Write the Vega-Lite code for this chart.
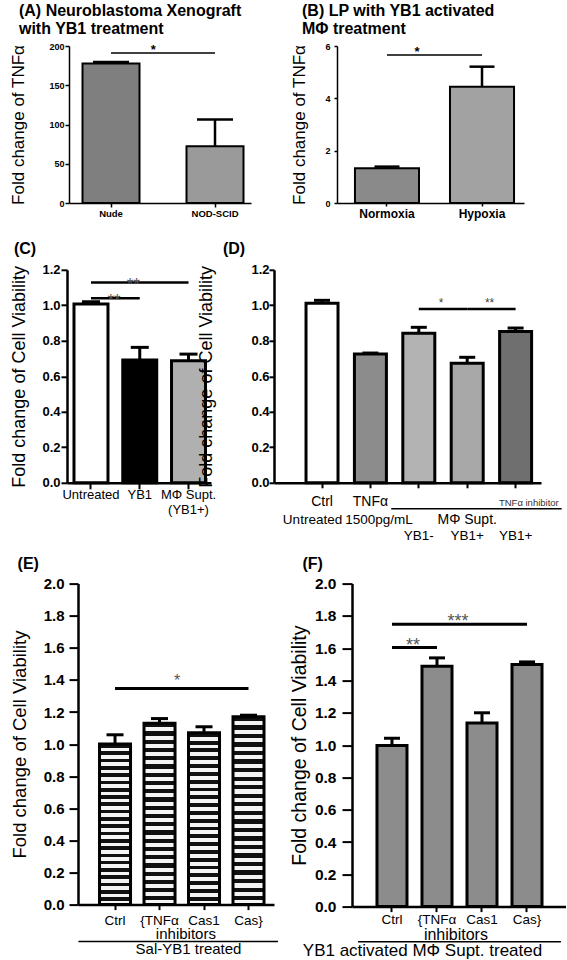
{
  "$schema": "https://vega.github.io/schema/vega-lite/v6.json",
  "background": "white",
  "padding": {"left": 9, "top": 3, "right": 0, "bottom": 0},
  "config": {
    "font": "Liberation Sans",
    "view": {"stroke": null},
    "axis": {"grid": false, "domainColor": "black", "tickColor": "black", "labelColor": "black", "titleColor": "black", "titleFontWeight": "normal", "labelFont": "Liberation Sans", "titleFont": "Liberation Sans"},
    "axisX": {"labelAngle": 0},
    "title": {"color": "black", "anchor": "start", "frame": "bounds", "font": "Liberation Sans"}
  },
  "datasets": {
    "A": [{"group": "Nude", "mean": 177.6, "upper": 179.5}, {"group": "NOD-SCID", "mean": 72.4, "upper": 106.4}],
    "Asig": [{"from": "Nude", "to": "NOD-SCID", "level": 191, "label": "*"}],
    "B": [{"group": "Normoxia", "mean": 1.33, "upper": 1.39}, {"group": "Hypoxia", "mean": 4.44, "upper": 5.21}],
    "Bsig": [{"from": "Normoxia", "to": "Hypoxia", "level": 5.66, "label": "*"}],
    "C": [{"group": "Untreated", "mean": 1.007, "upper": 1.02}, {"group": "YB1", "mean": 0.692, "upper": 0.763}, {"group": "MΦ Supt.", "mean": 0.688, "upper": 0.725}],
    "Csig": [{"from": "Untreated", "to": "MΦ Supt.", "level": 1.129, "label": "**"}, {"from": "Untreated", "to": "YB1", "level": 1.04, "label": "**"}],
    "D": [{"group": "Ctrl", "mean": 1.012, "upper": 1.028}, {"group": "TNFα", "mean": 0.725, "upper": 0.731}, {"group": "YB1-", "mean": 0.843, "upper": 0.876}, {"group": "YB1+", "mean": 0.673, "upper": 0.707}, {"group": "YB1+ inhibitor", "mean": 0.853, "upper": 0.872}],
    "Dsig": [{"from": "YB1-", "to": "YB1+", "level": 0.979, "label": "*"}, {"from": "YB1+", "to": "YB1+ inhibitor", "level": 0.979, "label": "**"}],
    "E": [{"group": "Ctrl", "mean": 1.0, "upper": 1.058}, {"group": "{TNFα", "mean": 1.13, "upper": 1.159}, {"group": "Cas1", "mean": 1.07, "upper": 1.108}, {"group": "Cas}", "mean": 1.17, "upper": 1.18}],
    "Esig": [{"from": "Ctrl", "to": "Cas}", "level": 1.346, "label": "*"}],
    "F": [{"group": "Ctrl", "mean": 0.998, "upper": 1.043}, {"group": "{TNFα", "mean": 1.488, "upper": 1.54}, {"group": "Cas1", "mean": 1.137, "upper": 1.2}, {"group": "Cas}", "mean": 1.499, "upper": 1.515}],
    "Fsig": [{"from": "Ctrl", "to": "{TNFα", "level": 1.604, "label": "**"}, {"from": "Ctrl", "to": "Cas}", "level": 1.748, "label": "***"}]
  },
  "columns": 1,
  "spacing": 12.8,
  "resolve": {"scale": {"fill": "independent"}},
  "concat": [
    {
      "resolve": {"scale": {"fill": "independent"}},
      "spacing": 0,
      "bounds": "flush",
      "hconcat": [
        {"width": 3, "height": 1, "data": {"values": []}, "mark": "point", "encoding": {}},
        {
          "resolve": {"scale": {"fill": "independent"}},
          "spacing": 86,
          "bounds": "flush",
          "hconcat": [
            {
              "width": 182, "height": 157,
              "title": {"text": ["(A) Neuroblastoma Xenograft", "\u00a0\u00a0\u00a0\u00a0\u00a0\u00a0with YB1 treatment"], "fontSize": 16, "fontWeight": "bold", "lineHeight": 18, "offset": 5, "dx": 9},
              "layer": [
                {"data": {"name": "A"}, "mark": {"type": "bar", "stroke": "black", "strokeWidth": 2},
                 "encoding": {
                   "x": {"field": "group", "type": "nominal", "scale": {"domain": ["Nude", "NOD-SCID"], "paddingInner": 0.452, "paddingOuter": 0.101, "align": 0.643},
                         "axis": {"title": null, "labelFontSize": 9.5, "labelFontWeight": "bold", "domainWidth": 1.5, "tickWidth": 1.5, "tickSize": 4, "labelPadding": 1.5}},
                   "y": {"field": "mean", "type": "quantitative", "scale": {"domain": [0, 200], "nice": false},
                         "axis": {"title": "Fold change of TNFα", "titleFontSize": 17, "titlePadding": 21, "values": [0, 50, 100, 150, 200], "format": "d", "tickCount": 30, "labelOverlap": false, "labelFontSize": 9, "labelFontWeight": "bold", "domainWidth": 1.5, "tickWidth": 1.5, "tickSize": 4, "labelPadding": 1}},
                   "fill": {"field": "group", "type": "nominal", "scale": {"domain": ["Nude", "NOD-SCID"], "range": ["#7f7f7f", "#9a9a9a"]}, "legend": null}
                 }},
                {"data": {"name": "A"}, "mark": {"type": "rule", "strokeWidth": 2.5, "color": "black"},
                 "encoding": {"x": {"field": "group", "type": "nominal"}, "y": {"field": "mean", "type": "quantitative"}, "y2": {"field": "upper"}}},
                {"data": {"name": "A"}, "mark": {"type": "tick", "size": 36, "thickness": 2.5, "color": "black", "opacity": 1},
                 "encoding": {"x": {"field": "group", "type": "nominal"}, "y": {"field": "upper", "type": "quantitative"}}},
                {"data": {"name": "Asig"}, "mark": {"type": "rule", "strokeWidth": 1.5, "color": "black"},
                 "encoding": {"x": {"field": "from", "type": "nominal"}, "x2": {"field": "to"}, "y": {"field": "level", "type": "quantitative"}}},
                {"data": {"name": "Asig"}, "mark": {"type": "text", "fontSize": 13, "fontWeight": "bold", "color": "black", "dy": -3},
                 "encoding": {"x": {"field": "from", "type": "nominal", "bandPosition": 1.24}, "y": {"field": "level", "type": "quantitative"}, "text": {"field": "label"}}}
              ]
            },
            {
              "width": 187, "height": 157,
              "title": {"text": ["(B) LP with YB1 activated", "\u00a0\u00a0\u00a0\u00a0\u00a0\u00a0\u00a0MΦ treatment"], "fontSize": 16, "fontWeight": "bold", "lineHeight": 18, "offset": 5, "dx": 11},
              "layer": [
                {"data": {"name": "B"}, "mark": {"type": "bar", "stroke": "black", "strokeWidth": 2},
                 "encoding": {
                   "x": {"field": "group", "type": "nominal", "scale": {"domain": ["Normoxia", "Hypoxia"], "paddingInner": 0.326, "paddingOuter": 0.147, "align": 0.643},
                         "axis": {"title": null, "labelFontSize": 12, "labelFontWeight": "bold", "domainWidth": 1.5, "tickWidth": 1.5, "tickSize": 3, "labelPadding": 2}},
                   "y": {"field": "mean", "type": "quantitative", "scale": {"domain": [0, 6], "nice": false},
                         "axis": {"title": "Fold change of TNFα", "titleFontSize": 17, "titlePadding": 16, "values": [0, 2, 4, 6], "format": "d", "tickCount": 30, "labelOverlap": false, "labelFontSize": 9, "labelFontWeight": "bold", "domainWidth": 1.5, "tickWidth": 1.5, "tickSize": 3, "labelPadding": 4}},
                   "fill": {"field": "group", "type": "nominal", "scale": {"domain": ["Normoxia", "Hypoxia"], "range": ["#8a8a8a", "#a2a2a2"]}, "legend": null}
                 }},
                {"data": {"name": "B"}, "mark": {"type": "rule", "strokeWidth": 2.5, "color": "black"},
                 "encoding": {"x": {"field": "group", "type": "nominal"}, "y": {"field": "mean", "type": "quantitative"}, "y2": {"field": "upper"}}},
                {"data": {"name": "B"}, "mark": {"type": "tick", "size": 25, "thickness": 2.5, "color": "black", "opacity": 1},
                 "encoding": {"x": {"field": "group", "type": "nominal"}, "y": {"field": "upper", "type": "quantitative"}}},
                {"data": {"name": "Bsig"}, "mark": {"type": "rule", "strokeWidth": 1.5, "color": "black"},
                 "encoding": {"x": {"field": "from", "type": "nominal"}, "x2": {"field": "to"}, "y": {"field": "level", "type": "quantitative"}}},
                {"data": {"name": "Bsig"}, "mark": {"type": "text", "fontSize": 13, "fontWeight": "bold", "color": "black", "dy": -3},
                 "encoding": {"x": {"field": "from", "type": "nominal", "bandPosition": 0.97}, "y": {"field": "level", "type": "quantitative"}, "text": {"field": "label"}}}
              ]
            }
          ]
        }
      ]
    },
    {
      "resolve": {"scale": {"fill": "independent"}},
      "spacing": 0,
      "bounds": "flush",
      "hconcat": [
        {"width": 1, "height": 1, "data": {"values": []}, "mark": "point", "encoding": {}},
        {
          "resolve": {"scale": {"fill": "independent"}},
          "spacing": 63,
          "bounds": "flush",
          "hconcat": [
            {
              "width": 144, "height": 213,
              "title": {"text": ["\u00a0", "(C)"], "fontSize": 16, "lineHeight": 9, "offset": 6.8, "dx": 3},
              "layer": [
                {"data": {"name": "C"}, "mark": {"type": "bar", "stroke": "black", "strokeWidth": 3},
                 "encoding": {
                   "x": {"field": "group", "type": "nominal", "scale": {"domain": ["Untreated", "YB1", "MΦ Supt."], "paddingInner": 0.303, "paddingOuter": 0.128, "align": 0.56},
                         "axis": {"title": null, "labelExpr": "datum.value == 'MΦ Supt.' ? ['MΦ Supt.', '(YB1+)'] : datum.value", "labelFontSize": 13, "labelLineHeight": 14.5, "domainWidth": 2.5, "tickWidth": 2, "tickSize": 6, "labelPadding": 0}},
                   "y": {"field": "mean", "type": "quantitative", "scale": {"domain": [0, 1.2], "nice": false},
                         "axis": {"title": "Fold change of Cell Viability", "titleFontSize": 18, "titlePadding": 13, "values": [0, 0.2, 0.4, 0.6, 0.8, 1, 1.2], "tickCount": 30, "labelOverlap": false, "format": ".1f", "labelFontSize": 13, "labelFontWeight": "bold", "domainWidth": 2.5, "tickWidth": 2, "tickSize": 6, "labelPadding": 1}},
                   "fill": {"field": "group", "type": "nominal", "scale": {"domain": ["Untreated", "YB1", "MΦ Supt."], "range": ["#ffffff", "#000000", "#b0b0b0"]}, "legend": null}
                 }},
                {"data": {"name": "C"}, "mark": {"type": "rule", "strokeWidth": 3, "color": "black"},
                 "encoding": {"x": {"field": "group", "type": "nominal"}, "y": {"field": "mean", "type": "quantitative"}, "y2": {"field": "upper"}}},
                {"data": {"name": "C"}, "mark": {"type": "tick", "size": 18, "thickness": 3, "color": "black", "opacity": 1},
                 "encoding": {"x": {"field": "group", "type": "nominal"}, "y": {"field": "upper", "type": "quantitative"}}},
                {"data": {"name": "Csig"}, "mark": {"type": "rule", "strokeWidth": 2.5, "color": "black"},
                 "encoding": {"x": {"field": "from", "type": "nominal"}, "x2": {"field": "to"}, "y": {"field": "level", "type": "quantitative"}}},
                {"data": {"values": [{"cat": "YB1", "level": 1.129, "label": "**"}]}, "mark": {"type": "text", "fontSize": 17, "color": "#555555", "dy": 3},
                 "encoding": {"x": {"field": "cat", "type": "nominal", "bandPosition": 0.31}, "y": {"field": "level", "type": "quantitative"}, "text": {"field": "label"}}},
                {"data": {"values": [{"cat": "Untreated", "level": 1.04, "label": "**"}]}, "mark": {"type": "text", "fontSize": 17, "color": "#555555", "dy": 3},
                 "encoding": {"x": {"field": "cat", "type": "nominal", "bandPosition": 1.18}, "y": {"field": "level", "type": "quantitative"}, "text": {"field": "label"}}}
              ]
            },
            {
              "width": 267, "height": 213,
              "title": {"text": ["\u00a0", "(D)"], "fontSize": 16, "lineHeight": 9, "offset": 6.8, "dx": 25},
              "layer": [
                {"data": {"name": "D"}, "mark": {"type": "bar", "stroke": "black", "strokeWidth": 3},
                 "encoding": {
                   "x": {"field": "group", "type": "nominal", "scale": {"domain": ["Ctrl", "TNFα", "YB1-", "YB1+", "YB1+ inhibitor"], "paddingInner": 0.339, "paddingOuter": 0.428, "align": 0.773},
                         "axis": {"title": null, "labelExpr": "indexof(['Ctrl', 'TNFα'], datum.value) >= 0 ? datum.value : ''", "labelFontSize": 14, "domainWidth": 2.5, "tickWidth": 2, "tickSize": 5, "labelPadding": 7}},
                   "y": {"field": "mean", "type": "quantitative", "scale": {"domain": [0, 1.2], "nice": false},
                         "axis": {"title": "Fold change of Cell Viability", "titleFontSize": 18, "titlePadding": 35, "values": [0, 0.2, 0.4, 0.6, 0.8, 1, 1.2], "tickCount": 30, "labelOverlap": false, "format": ".1f", "labelFontSize": 13, "labelFontWeight": "bold", "domainWidth": 2.5, "tickWidth": 2, "tickSize": 5, "labelPadding": 0}},
                   "fill": {"field": "group", "type": "nominal", "scale": {"domain": ["Ctrl", "TNFα", "YB1-", "YB1+", "YB1+ inhibitor"], "range": ["#ffffff", "#8c8c8c", "#b3b3b3", "#a8a8a8", "#6f6f6f"]}, "legend": null}
                 }},
                {"data": {"name": "D"}, "mark": {"type": "rule", "strokeWidth": 3, "color": "black"},
                 "encoding": {"x": {"field": "group", "type": "nominal"}, "y": {"field": "mean", "type": "quantitative"}, "y2": {"field": "upper"}}},
                {"data": {"name": "D"}, "mark": {"type": "tick", "size": 16, "thickness": 3, "color": "black", "opacity": 1},
                 "encoding": {"x": {"field": "group", "type": "nominal"}, "y": {"field": "upper", "type": "quantitative"}}},
                {"data": {"name": "Dsig"}, "mark": {"type": "rule", "strokeWidth": 2.5, "color": "black"},
                 "encoding": {"x": {"field": "from", "type": "nominal"}, "x2": {"field": "to"}, "y": {"field": "level", "type": "quantitative"}}},
                {"data": {"name": "Dsig"}, "mark": {"type": "text", "fontSize": 12, "color": "#444444", "dy": -6},
                 "encoding": {"x": {"field": "from", "type": "nominal", "bandPosition": 1.2}, "y": {"field": "level", "type": "quantitative"}, "text": {"field": "label"}}},
                {"data": {"values": [{"cat": "Ctrl", "label": "Untreated"}]}, "mark": {"type": "text", "align": "right", "baseline": "middle", "fontSize": 13.5, "color": "black"},
                 "encoding": {"x": {"field": "cat", "type": "nominal", "bandPosition": 1.13}, "y": {"datum": -0.208, "type": "quantitative"}, "text": {"field": "label"}}},
                {"data": {"values": [{"cat": "TNFα", "label": "1500pg/mL"}]}, "mark": {"type": "text", "align": "left", "baseline": "middle", "fontSize": 13.5, "color": "black"},
                 "encoding": {"x": {"field": "cat", "type": "nominal", "bandPosition": -0.29}, "y": {"datum": -0.208, "type": "quantitative"}, "text": {"field": "label"}}},
                {"data": {"values": [{"cat": "YB1+", "label": "MΦ  Supt."}]}, "mark": {"type": "text", "align": "center", "baseline": "middle", "fontSize": 14, "color": "black"},
                 "encoding": {"x": {"field": "cat", "type": "nominal"}, "y": {"datum": -0.208, "type": "quantitative"}, "text": {"field": "label"}}},
                {"data": {"values": [{"cat": "YB1-", "label": "YB1-"}, {"cat": "YB1+", "label": "YB1+"}, {"cat": "YB1+ inhibitor", "label": "YB1+"}]}, "mark": {"type": "text", "align": "center", "baseline": "middle", "fontSize": 13.5, "color": "black"},
                 "encoding": {"x": {"field": "cat", "type": "nominal"}, "y": {"datum": -0.299, "type": "quantitative"}, "text": {"field": "label"}}},
                {"data": {"values": [{"cat": "YB1+ inhibitor", "label": "TNFα inhibitor"}]}, "mark": {"type": "text", "align": "right", "baseline": "middle", "fontSize": 9.5, "color": "#333333"},
                 "encoding": {"x": {"field": "cat", "type": "nominal", "bandPosition": 1.85}, "y": {"datum": -0.113, "type": "quantitative"}, "text": {"field": "label"}}},
                {"data": {"values": [{"start": "TNFα", "end": "YB1+ inhibitor"}]}, "mark": {"type": "rule", "strokeWidth": 1.5, "color": "black"},
                 "encoding": {"x": {"field": "start", "type": "nominal", "bandPosition": 1.15}, "x2": {"field": "end", "bandPosition": 1.94}, "y": {"datum": -0.146, "type": "quantitative"}}}
              ]
            }
          ]
        }
      ]
    },
    {
      "resolve": {"scale": {"fill": "independent"}},
      "spacing": 0,
      "bounds": "flush",
      "hconcat": [
        {"width": 12, "height": 1, "data": {"values": []}, "mark": "point", "encoding": {}},
        {
          "resolve": {"scale": {"fill": "independent"}},
          "spacing": 78,
          "bounds": "flush",
          "hconcat": [
            {
              "width": 196, "height": 321,
              "title": {"text": "(E)", "fontSize": 16, "offset": 4.2, "dx": 7},
              "layer": [
                {"data": {"name": "E"},
                 "mark": {"type": "bar", "stroke": "black", "strokeWidth": 3,
                   "fill": {"gradient": "linear", "x1": 0, "y1": 0, "x2": 0, "y2": 1, "stops": [
                     {"offset": 0, "color": "#111111"}, {"offset": 0.0227, "color": "#111111"}, {"offset": 0.0227, "color": "#f4f4f4"}, {"offset": 0.0455, "color": "#f4f4f4"},
                     {"offset": 0.0455, "color": "#111111"}, {"offset": 0.0682, "color": "#111111"}, {"offset": 0.0682, "color": "#f4f4f4"}, {"offset": 0.0909, "color": "#f4f4f4"},
                     {"offset": 0.0909, "color": "#111111"}, {"offset": 0.1136, "color": "#111111"}, {"offset": 0.1136, "color": "#f4f4f4"}, {"offset": 0.1364, "color": "#f4f4f4"},
                     {"offset": 0.1364, "color": "#111111"}, {"offset": 0.1591, "color": "#111111"}, {"offset": 0.1591, "color": "#f4f4f4"}, {"offset": 0.1818, "color": "#f4f4f4"},
                     {"offset": 0.1818, "color": "#111111"}, {"offset": 0.2045, "color": "#111111"}, {"offset": 0.2045, "color": "#f4f4f4"}, {"offset": 0.2273, "color": "#f4f4f4"},
                     {"offset": 0.2273, "color": "#111111"}, {"offset": 0.25, "color": "#111111"}, {"offset": 0.25, "color": "#f4f4f4"}, {"offset": 0.2727, "color": "#f4f4f4"},
                     {"offset": 0.2727, "color": "#111111"}, {"offset": 0.2955, "color": "#111111"}, {"offset": 0.2955, "color": "#f4f4f4"}, {"offset": 0.3182, "color": "#f4f4f4"},
                     {"offset": 0.3182, "color": "#111111"}, {"offset": 0.3409, "color": "#111111"}, {"offset": 0.3409, "color": "#f4f4f4"}, {"offset": 0.3636, "color": "#f4f4f4"},
                     {"offset": 0.3636, "color": "#111111"}, {"offset": 0.3864, "color": "#111111"}, {"offset": 0.3864, "color": "#f4f4f4"}, {"offset": 0.4091, "color": "#f4f4f4"},
                     {"offset": 0.4091, "color": "#111111"}, {"offset": 0.4318, "color": "#111111"}, {"offset": 0.4318, "color": "#f4f4f4"}, {"offset": 0.4545, "color": "#f4f4f4"},
                     {"offset": 0.4545, "color": "#111111"}, {"offset": 0.4773, "color": "#111111"}, {"offset": 0.4773, "color": "#f4f4f4"}, {"offset": 0.5, "color": "#f4f4f4"},
                     {"offset": 0.5, "color": "#111111"}, {"offset": 0.5227, "color": "#111111"}, {"offset": 0.5227, "color": "#f4f4f4"}, {"offset": 0.5455, "color": "#f4f4f4"},
                     {"offset": 0.5455, "color": "#111111"}, {"offset": 0.5682, "color": "#111111"}, {"offset": 0.5682, "color": "#f4f4f4"}, {"offset": 0.5909, "color": "#f4f4f4"},
                     {"offset": 0.5909, "color": "#111111"}, {"offset": 0.6136, "color": "#111111"}, {"offset": 0.6136, "color": "#f4f4f4"}, {"offset": 0.6364, "color": "#f4f4f4"},
                     {"offset": 0.6364, "color": "#111111"}, {"offset": 0.6591, "color": "#111111"}, {"offset": 0.6591, "color": "#f4f4f4"}, {"offset": 0.6818, "color": "#f4f4f4"},
                     {"offset": 0.6818, "color": "#111111"}, {"offset": 0.7045, "color": "#111111"}, {"offset": 0.7045, "color": "#f4f4f4"}, {"offset": 0.7273, "color": "#f4f4f4"},
                     {"offset": 0.7273, "color": "#111111"}, {"offset": 0.75, "color": "#111111"}, {"offset": 0.75, "color": "#f4f4f4"}, {"offset": 0.7727, "color": "#f4f4f4"},
                     {"offset": 0.7727, "color": "#111111"}, {"offset": 0.7955, "color": "#111111"}, {"offset": 0.7955, "color": "#f4f4f4"}, {"offset": 0.8182, "color": "#f4f4f4"},
                     {"offset": 0.8182, "color": "#111111"}, {"offset": 0.8409, "color": "#111111"}, {"offset": 0.8409, "color": "#f4f4f4"}, {"offset": 0.8636, "color": "#f4f4f4"},
                     {"offset": 0.8636, "color": "#111111"}, {"offset": 0.8864, "color": "#111111"}, {"offset": 0.8864, "color": "#f4f4f4"}, {"offset": 0.9091, "color": "#f4f4f4"},
                     {"offset": 0.9091, "color": "#111111"}, {"offset": 0.9318, "color": "#111111"}, {"offset": 0.9318, "color": "#f4f4f4"}, {"offset": 0.9545, "color": "#f4f4f4"},
                     {"offset": 0.9545, "color": "#111111"}, {"offset": 0.9773, "color": "#111111"}, {"offset": 0.9773, "color": "#f4f4f4"}, {"offset": 1, "color": "#f4f4f4"}
                   ]}},
                 "encoding": {
                   "x": {"field": "group", "type": "nominal", "scale": {"domain": ["Ctrl", "{TNFα", "Cas1", "Cas}"], "paddingInner": 0.303, "paddingOuter": 0.354, "align": 0.683},
                         "axis": {"title": "Sal-YB1 treated", "titleFontSize": 15, "titlePadding": 14, "titleX": 110, "titleAlign": "center", "labelFontSize": 13.5, "domainWidth": 2.5, "tickWidth": 2, "tickSize": 5, "labelPadding": 4}},
                   "y": {"field": "mean", "type": "quantitative", "scale": {"domain": [0, 2], "nice": false},
                         "axis": {"title": "Fold change of Cell Viability", "titleFontSize": 18.5, "titlePadding": 13.6, "values": [0, 0.2, 0.4, 0.6, 0.8, 1, 1.2, 1.4, 1.6, 1.8, 2], "tickCount": 30, "labelOverlap": false, "format": ".1f", "labelFontSize": 15, "labelFontWeight": "bold", "domainWidth": 2.5, "tickWidth": 2, "tickSize": 9, "labelPadding": 5}}
                 }},
                {"data": {"name": "E"}, "mark": {"type": "rule", "strokeWidth": 3, "color": "black"},
                 "encoding": {"x": {"field": "group", "type": "nominal"}, "y": {"field": "mean", "type": "quantitative"}, "y2": {"field": "upper"}}},
                {"data": {"name": "E"}, "mark": {"type": "tick", "size": 17, "thickness": 3, "color": "black", "opacity": 1},
                 "encoding": {"x": {"field": "group", "type": "nominal"}, "y": {"field": "upper", "type": "quantitative"}}},
                {"data": {"name": "Esig"}, "mark": {"type": "rule", "strokeWidth": 3, "color": "black"},
                 "encoding": {"x": {"field": "from", "type": "nominal"}, "x2": {"field": "to"}, "y": {"field": "level", "type": "quantitative"}}},
                {"data": {"name": "Esig"}, "mark": {"type": "text", "fontSize": 16, "color": "#555555", "dy": -8},
                 "encoding": {"x": {"field": "from", "type": "nominal", "bandPosition": 2.5}, "y": {"field": "level", "type": "quantitative"}, "text": {"field": "label"}}},
                {"data": {"values": [{"cat": "{TNFα", "label": "inhibitors"}]}, "mark": {"type": "text", "align": "center", "baseline": "middle", "fontSize": 15, "color": "black"},
                 "encoding": {"x": {"field": "cat", "type": "nominal", "bandPosition": 1.35}, "y": {"datum": -0.186, "type": "quantitative"}, "text": {"field": "label"}}},
                {"data": {"values": [{"start": "Ctrl", "end": "Cas}"}]}, "mark": {"type": "rule", "strokeWidth": 1.5, "color": "black"},
                 "encoding": {"x": {"field": "start", "type": "nominal", "bandPosition": -0.68}, "x2": {"field": "end", "bandPosition": 1.45}, "y": {"datum": -0.23, "type": "quantitative"}}}
              ]
            },
            {
              "width": 214, "height": 323,
              "title": {"text": "(F)", "fontSize": 16, "offset": 4.2, "dx": 12.5},
              "layer": [
                {"data": {"name": "F"}, "mark": {"type": "bar", "stroke": "black", "strokeWidth": 3, "fill": "#8c8c8c"},
                 "encoding": {
                   "x": {"field": "group", "type": "nominal", "scale": {"domain": ["Ctrl", "{TNFα", "Cas1", "Cas}"], "paddingInner": 0.333, "paddingOuter": 0.544, "align": 0.51},
                         "axis": {"title": "YB1 activated MΦ Supt. treated", "titleFontSize": 17, "titlePadding": 16, "titleX": 70, "titleAlign": "center", "labelFontSize": 13.5, "domainWidth": 2.5, "tickWidth": 2, "tickSize": 5, "labelPadding": 1}},
                   "y": {"field": "mean", "type": "quantitative", "scale": {"domain": [0, 2], "nice": false},
                         "axis": {"title": "Fold change of Cell Viability", "titleFontSize": 19.5, "titlePadding": 4.5, "values": [0, 0.2, 0.4, 0.6, 0.8, 1, 1.2, 1.4, 1.6, 1.8, 2], "tickCount": 30, "labelOverlap": false, "format": ".1f", "labelFontSize": 15.5, "labelFontWeight": "bold", "domainWidth": 2.5, "tickWidth": 2, "tickSize": 10, "labelPadding": 6}}
                 }},
                {"data": {"name": "F"}, "mark": {"type": "rule", "strokeWidth": 3, "color": "black"},
                 "encoding": {"x": {"field": "group", "type": "nominal"}, "y": {"field": "mean", "type": "quantitative"}, "y2": {"field": "upper"}}},
                {"data": {"name": "F"}, "mark": {"type": "tick", "size": 16, "thickness": 3, "color": "black", "opacity": 1},
                 "encoding": {"x": {"field": "group", "type": "nominal"}, "y": {"field": "upper", "type": "quantitative"}}},
                {"data": {"name": "Fsig"}, "mark": {"type": "rule", "strokeWidth": 3, "color": "black"},
                 "encoding": {"x": {"field": "from", "type": "nominal"}, "x2": {"field": "to"}, "y": {"field": "level", "type": "quantitative"}}},
                {"data": {"values": [{"cat": "Ctrl", "level": 1.604, "label": "**"}, {"cat": "{TNFα", "level": 1.748, "label": "***"}]}, "mark": {"type": "text", "fontSize": 18, "color": "#555555", "dy": -2},
                 "encoding": {"x": {"field": "cat", "type": "nominal", "bandPosition": 1.2}, "y": {"field": "level", "type": "quantitative"}, "text": {"field": "label"}}},
                {"data": {"values": [{"cat": "{TNFα", "label": "inhibitors"}]}, "mark": {"type": "text", "align": "center", "baseline": "middle", "fontSize": 16, "color": "black"},
                 "encoding": {"x": {"field": "cat", "type": "nominal", "bandPosition": 1.13}, "y": {"datum": -0.173, "type": "quantitative"}, "text": {"field": "label"}}},
                {"data": {"values": [{"start": "Ctrl", "end": "Cas}"}]}, "mark": {"type": "rule", "strokeWidth": 1.5, "color": "black"},
                 "encoding": {"x": {"field": "start", "type": "nominal", "bandPosition": -0.63}, "x2": {"field": "end", "bandPosition": 1.63}, "y": {"datum": -0.217, "type": "quantitative"}}}
              ]
            }
          ]
        }
      ]
    }
  ]
}
